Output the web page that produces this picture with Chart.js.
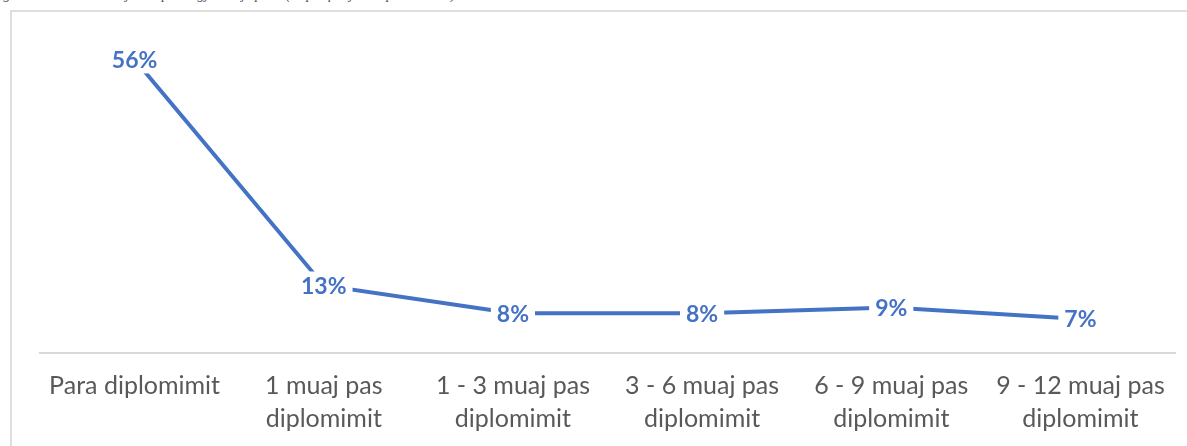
<!DOCTYPE html>
<html>
<head>
<meta charset="utf-8">
<script src="https://cdn.jsdelivr.net/npm/chart.js@4.4.1/dist/chart.umd.min.js"></script>
<style>
  html, body { margin: 0; padding: 0; background: #fff; overflow: hidden; }
  body { width: 1187px; height: 446px; position: relative; }
  #caption { position: absolute; left: -9px; top: -13px; white-space: nowrap;
    font: italic 14px "Liberation Serif", "DejaVu Serif", serif; color: #44546A; }
  #frame { position: absolute; left: 10px; top: 10px; width: 1200px; height: 460px;
    border: 2px solid #dedede; box-sizing: border-box; }
  #wrap { position: absolute; left: 0; top: 0; width: 1187px; height: 446px; }
</style>
</head>
<body>
<div id="caption">Figura 14: Koha e nevojshme për të gjetur një punë (sa përqindje e të punësuarve)</div>
<div id="frame"></div>
<div id="wrap"><canvas id="c" width="1187" height="446"></canvas></div>
<script>
// Categories (x-axis tick labels, multi-line)
const categories = [
  ["Para diplomimit"],
  ["1 muaj pas", "diplomimit"],
  ["1 - 3 muaj pas", "diplomimit"],
  ["3 - 6 muaj pas", "diplomimit"],
  ["6 - 9 muaj pas", "diplomimit"],
  ["9 - 12 muaj pas", "diplomimit"]
];
// Share of graduates (%), estimated from line positions; labels show rounded values
const shareValues = [56.1, 12.9, 7.6, 7.6, 8.7, 6.5];
const shareLabels = ["56%", "13%", "8%", "8%", "9%", "7%"];

const labelPlugin = {
  id: 'pointLabels',
  afterDatasetsDraw(chart) {
    const ctx = chart.ctx;
    const meta = chart.getDatasetMeta(0);
    ctx.save();
    ctx.font = 'bold 23px Lato, "Open Sans", sans-serif';
    ctx.textAlign = 'center';
    ctx.textBaseline = 'middle';
    meta.data.forEach((pt, i) => {
      const txt = shareLabels[i];
      const w = ctx.measureText(txt).width;
      ctx.fillStyle = '#ffffff';
      ctx.fillRect(pt.x - w / 2 - 6, pt.y - 14, w + 12, 28);
      ctx.fillStyle = '#4472C4';
      ctx.fillText(txt, pt.x, pt.y + 1);
    });
    ctx.restore();
  }
};

new Chart(document.getElementById('c'), {
  type: 'line',
  data: {
    labels: categories,
    datasets: [{
      data: shareValues,
      borderColor: '#4472C4',
      borderWidth: 4,
      pointRadius: 0,
      fill: false,
      tension: 0
    }]
  },
  options: {
    responsive: false,
    animation: false,
    layout: { padding: { left: 40, right: 12, top: 39, bottom: -6 } },
    plugins: { legend: { display: false }, tooltip: { enabled: false } },
    scales: {
      x: {
        offset: true,
        grid: { display: false, drawTicks: false },
        border: { display: true, color: '#d9d9d9', width: 2 },
        ticks: {
          color: '#595959',
          padding: 17,
          maxRotation: 0,
          autoSkip: false,
          font: { family: 'Lato, "Open Sans", sans-serif', size: 25, lineHeight: 1.3 }
        }
      },
      y: {
        display: false,
        min: 0,
        max: 60
      }
    }
  },
  plugins: [labelPlugin]
});
</script>
</body>
</html>
